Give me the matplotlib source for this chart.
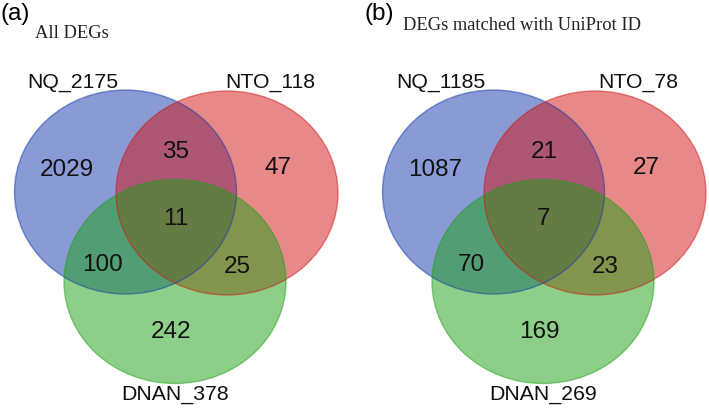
import matplotlib
matplotlib.use('Agg')
import matplotlib.pyplot as plt
from matplotlib.patches import Ellipse

# region order: NQ only, NQ&NTO, NTO only, all three, NQ&DNAN, NTO&DNAN, DNAN only
counts_a = [2029, 35, 47, 11, 100, 25, 242]
counts_b = [1087, 21, 27, 7, 70, 23, 169]
sets_a = ['NQ_2175', 'NTO_118', 'DNAN_378']
sets_b = ['NQ_1185', 'NTO_78', 'DNAN_269']
panel_tags = ['(a)', '(b)']
panel_titles = ['All DEGs', 'DEGs matched with UniProt ID']

# layout (pixel coords within one panel)
ELL_W, ELL_H = 222, 204
centers = [(125.5, 192), (227, 193), (175, 281.5)]  # blue, red, green
fills = ['#1537ad', '#d11515', '#1da115']
region_pos = [(67, 170), (176, 152), (278, 168), (176, 219),
              (103, 265), (237, 267), (171, 332)]
set_label_pos = [(73, 82), (270, 82), (175, 395)]
title_pos = [(35, 33), (403 - 368, 25)]
OFFSET = 368

fig = plt.figure(figsize=(7.09, 4.09), dpi=100)
ax = fig.add_axes([0, 0, 1, 1])
ax.set_xlim(0, 709)
ax.set_ylim(409, 0)
ax.axis('off')

for i, (counts, names) in enumerate([(counts_a, sets_a), (counts_b, sets_b)]):
    dx = i * OFFSET
    for (cx, cy), col in zip(centers, fills):
        ax.add_patch(Ellipse((cx + dx, cy), ELL_W, ELL_H, facecolor=col,
                             alpha=0.5, edgecolor='none'))
    for (cx, cy), col in zip(centers, fills):
        ax.add_patch(Ellipse((cx + dx, cy), ELL_W, ELL_H, facecolor='none',
                             edgecolor=col, alpha=0.5, linewidth=1.0))
    for (x, y), n in zip(region_pos, counts):
        ax.text(x + dx, y, str(n), ha='center', va='center', fontsize=17.5,
                family='Liberation Sans', color='#111111')
    for (x, y), name in zip(set_label_pos, names):
        ax.text(x + dx, y, name, ha='center', va='center', fontsize=15.3,
                family='Liberation Sans', color='#111111')
    ax.text(dx + (0 if i == 0 else -4), 14, panel_tags[i], ha='left', va='center',
            fontsize=17.5, family='Liberation Sans')
    tx, ty = title_pos[i]
    ax.text(tx + dx, ty, panel_titles[i], ha='left', va='center', fontsize=13.3,
            family='Liberation Serif', color='#222222')

fig.savefig('out.png', dpi=100)
